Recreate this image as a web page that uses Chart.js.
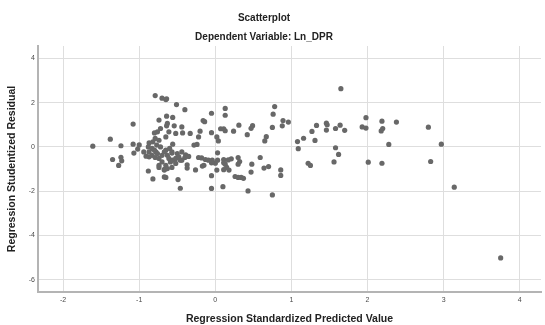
<!DOCTYPE html>
<html>
<head>
<meta charset="utf-8">
<title>Scatterplot</title>
<script src="https://cdn.jsdelivr.net/npm/chart.js@4"></script>
<style>
  body { margin: 0; background: #fff; }
  #wrap { width: 545px; height: 325px; }
</style>
</head>
<body>
<div id="wrap"><canvas id="scatterChart" width="545" height="325"></canvas></div>
<script>
// Regression Standardized Predicted Value (x) for each case
const predicted = [
    -1.61, -1.38, -1.24, -1.35, -1.24, -1.23, -1.27, -1.08, -1.08, -1.00,
    -1.07, -1.02, -0.88, -0.82, -0.87, -0.79, -0.70, -0.65, -0.64, -0.51,
    -0.40, -0.64, -0.56, -0.74, -0.63, -0.64, -0.54, -0.44, -0.72, -0.80,
    -0.76, -0.61, -0.52, -0.43, -0.33, -0.79, -0.74, -0.65, -0.56, -0.20,
    -0.05, 0.13, 0.13, -0.16, -0.14, 0.07, 0.11, 0.13, 0.24, 0.31,
    0.42, -0.05, 0.02, 0.04, -0.22, -0.28, -0.24, 0.47, 0.49, 0.65,
    0.67, 0.75, 0.78, 0.76, 0.89, 0.96, 0.88, 1.08, 1.16, 1.09,
    1.27, 1.31, 1.33, 1.46, 1.46, 1.47, 1.58, 1.64, 1.70, 1.65,
    1.58, 1.62, 1.56, 1.22, 1.25, 1.98, 1.93, 1.98, 2.19, 2.20,
    2.18, 2.38, 2.28, 2.01, 2.19, 2.80, 2.97, 2.83, 3.14, 3.75,
    0.21, 0.30, 0.32, 0.30, 0.48, 0.59, 0.64, 0.70, 0.47, 0.26,
    0.30, 0.34, 0.37, 0.86, 0.86, 0.43, 0.75, -0.05, 0.10, -0.46,
    -0.49, -0.05, 0.02, 0.11, 0.18, 0.00, 0.13, 0.15, -0.17, -0.15,
    -0.37, -0.37, -0.26, -0.39, -0.35, -0.57, -0.67, -0.65, -0.74, -0.67,
    -0.22, -0.18, -0.13, -0.09, -0.04, -0.05, 0.03, 0.03, 0.11, 0.11,
    0.17,
    -0.83, -0.80, -0.78, -0.76, -0.83, -0.87, -0.91, -0.79, -0.74, -0.70,
    -0.67, -0.65, -0.63, -0.61, -0.59, -0.56, -0.52, -0.57, -0.60, -0.50,
    -0.48, -0.46, -0.70, -0.74, -0.65, -0.63, -0.67, -0.57, -0.52, -0.44,
    -0.40, -0.44, -0.88, -0.77, -0.72, -0.82, -0.87, -0.94
];

// Regression Studentized Residual (y) for each case, same order
const residual = [
    0.03, 0.35, 0.05, -0.57, -0.47, -0.63, -0.84, 1.03, 0.12, 0.09,
    -0.28, -0.10, -1.09, -1.45, 0.18, 2.32, 2.20, 2.14, 2.17, 1.91,
    1.68, 1.39, 1.33, 1.21, 1.06, 0.95, 0.95, 0.90, 0.83, 0.63,
    0.68, 0.68, 0.61, 0.63, 0.61, 0.38, 0.30, 0.45, 0.12, 0.71,
    1.52, 1.74, 1.43, 1.19, 1.14, 0.82, 0.82, 0.73, 0.71, 0.98,
    0.55, 0.64, 0.45, 0.27, 0.45, 0.08, 0.11, 0.84, 0.96, 0.27,
    0.46, 0.88, 1.82, 1.48, 1.19, 1.12, 0.95, 0.24, 0.39, -0.08,
    0.70, 0.29, 0.97, 1.07, 0.76, 1.00, 0.83, 0.98, 0.75, 2.63,
    -0.04, -0.34, -0.68, -0.74, -0.84, 1.32, 0.90, 0.85, 1.16, 0.83,
    0.72, 1.12, 0.11, -0.69, -0.74, 0.89, 0.12, -0.66, -1.82, -5.02,
    -0.54, -0.48, -0.66, -0.78, -0.78, -0.48, -0.96, -0.89, -1.14, -1.34,
    -1.38, -1.38, -1.42, -1.04, -1.29, -1.99, -2.17, -1.88, -1.80, -1.87,
    -1.48, -1.30, -1.05, -1.03, -1.05, -0.74, -0.78, -0.93, -0.87, -0.83,
    -0.81, -0.96, -1.04, -0.36, -0.43, -0.28, -1.36, -1.38, -0.93, -1.02,
    -0.48, -0.50, -0.57, -0.60, -0.60, -0.72, -0.27, -0.60, -0.57, -0.72,
    -0.59,
    -0.07, -0.15, -0.23, -0.30, -0.38, -0.45, -0.42, -0.48, -0.52, -0.38,
    -0.23, -0.15, -0.38, -0.52, -0.68, -0.60, -0.52, -0.23, -0.07, -0.30,
    -0.45, -0.60, -0.68, -0.83, -0.83, -0.98, -1.05, -0.93, -0.75, -0.60,
    -0.48, -0.23, 0.00, 0.08, 0.00, 0.23, -0.23, -0.23
];

// Axis tick settings
const xTickStep = 1;
const yTickStep = 2;

const fontFamily = '"Liberation Sans", Arial, sans-serif';

const points = predicted.map((x, i) => ({ x: x, y: residual[i] }));

// The original page is cropped on the right, so the titles sit a bit left of centre
const titleShift = {
    id: 'titleShift',
    afterLayout(chart) {
        chart.boxes.forEach(box => {
            if (box.position === 'top' && box.options && box.options.text !== undefined) {
                box.right = box.left + 528;
            }
        });
    }
};

const ctx = document.getElementById('scatterChart').getContext('2d');
const scatterChart = new Chart(ctx, {
    type: 'scatter',
    data: {
        datasets: [{
            label: 'Cases',
            data: points,
            backgroundColor: 'rgb(104, 104, 104)',
            borderWidth: 0,
            pointRadius: 2.6,
        }]
    },
    options: {
        responsive: false,
        animation: false,
        layout: { padding: 0 },
        plugins: {
            legend: { display: false },
            tooltip: { enabled: false },
            title: {
                display: true,
                text: 'Scatterplot',
                color: '#222',
                font: { family: fontFamily, size: 10, weight: 'bold', lineHeight: 1.2 },
                padding: { top: 12, bottom: 4 },
            },
            subtitle: {
                display: true,
                text: 'Dependent Variable: Ln_DPR',
                color: '#222',
                font: { family: fontFamily, size: 10, weight: 'bold', lineHeight: 1.2 },
                padding: { top: 3.5, bottom: 2.5 },
            }
        },
        scales: {
            x: {
                type: 'linear',
                min: -2.33,
                max: 4.28,
                afterFit: scale => { scale.height = 33; },
                border: { color: '#b4b4b4', width: 2 },
                grid: { color: '#dedede', lineWidth: 1, drawTicks: false },
                ticks: {
                    stepSize: xTickStep,
                    includeBounds: false,
                    padding: 4,
                    color: '#4a4a4a',
                    font: { family: fontFamily, size: 7 },
                },
                title: {
                    display: true,
                    text: 'Regression Standardized Predicted Value',
                    color: '#222',
                    font: { family: fontFamily, size: 10.5, weight: 'bold', lineHeight: 1.2 },
                    padding: { top: 0, bottom: 0 },
                }
            },
            y: {
                type: 'linear',
                min: -6.56,
                max: 4.56,
                afterFit: scale => { scale.width = 38; },
                border: { color: '#b4b4b4', width: 2 },
                grid: { color: '#dedede', lineWidth: 1, drawTicks: false },
                ticks: {
                    stepSize: yTickStep,
                    includeBounds: false,
                    padding: 3,
                    color: '#4a4a4a',
                    font: { family: fontFamily, size: 7 },
                },
                title: {
                    display: true,
                    text: 'Regression Studentized Residual',
                    color: '#222',
                    font: { family: fontFamily, size: 10.5, weight: 'bold', lineHeight: 1.2 },
                    padding: { top: 5.7, bottom: 0 },
                }
            }
        }
    },
    plugins: [titleShift]
});
</script>
</body>
</html>
